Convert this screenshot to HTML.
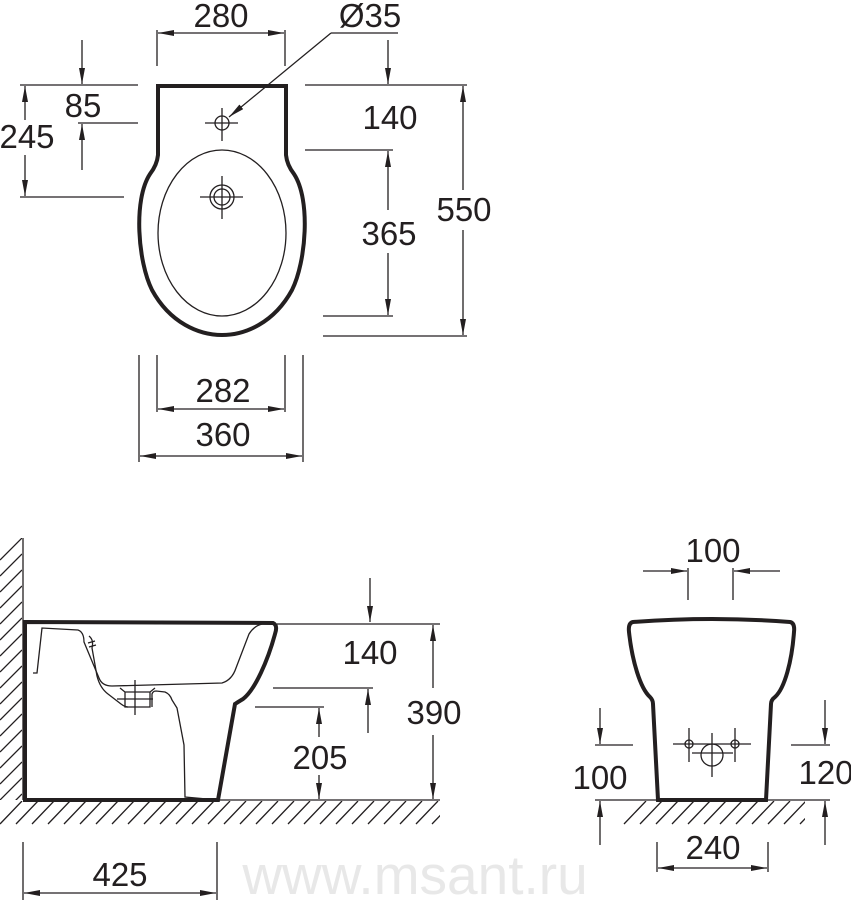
<!DOCTYPE html>
<html><head><meta charset="utf-8"><style>
html,body{margin:0;padding:0;background:#fff;}
svg{display:block;}
text{font-family:"Liberation Sans",Arial,sans-serif;font-size:33px;fill:#231f20;text-anchor:middle;}
</style></head><body>
<svg width="851" height="900" viewBox="0 0 851 900" xmlns="http://www.w3.org/2000/svg">
<defs>
<marker id="a" viewBox="0 0 16 6" refX="16" refY="3" markerWidth="16" markerHeight="6" markerUnits="userSpaceOnUse" orient="auto">
<path d="M0,0 L16,3 L0,6 Z" fill="#231f20"/>
</marker>
<clipPath id="wallc"><rect x="0" y="538" width="22" height="262"/></clipPath>
<clipPath id="fl1"><rect x="0" y="801" width="440" height="24"/></clipPath>
<clipPath id="fl2"><rect x="620" y="801" width="185" height="24"/></clipPath>
</defs>
<text x="415" y="894" style="font-size:55px;fill:#e8e8e8">www.msant.ru</text>
<g stroke="#231f20" fill="none" stroke-width="1.3">
<g clip-path="url(#wallc)">
<path d="M0,560 L22,538 M0,576 L22,554 M0,592 L22,570 M0,608 L22,586 M0,624 L22,602 M0,640 L22,618 M0,656 L22,634 M0,672 L22,650 M0,688 L22,666 M0,704 L22,682 M0,720 L22,698 M0,736 L22,714 M0,752 L22,730 M0,768 L22,746 M0,784 L22,762 M0,800 L22,778 M0,816 L22,794"/>
</g>
<g clip-path="url(#fl1)">
<path d="M0,824 L22,801 M16,824 L38,801 M32,824 L54,801 M48,824 L70,801 M64,824 L86,801 M80,824 L102,801 M96,824 L118,801 M112,824 L134,801 M128,824 L150,801 M144,824 L166,801 M160,824 L182,801 M176,824 L198,801 M192,824 L214,801 M208,824 L230,801 M224,824 L246,801 M240,824 L262,801 M256,824 L278,801 M272,824 L294,801 M288,824 L310,801 M304,824 L326,801 M320,824 L342,801 M336,824 L358,801 M352,824 L374,801 M368,824 L390,801 M384,824 L406,801 M400,824 L422,801 M416,824 L438,801 M432,824 L454,801"/>
</g>
<g clip-path="url(#fl2)">
<path d="M624,824 L646,801 M640,824 L662,801 M656,824 L678,801 M672,824 L694,801 M688,824 L710,801 M704,824 L726,801 M720,824 L742,801 M736,824 L758,801 M752,824 L774,801 M768,824 L790,801 M784,824 L806,801 M800,824 L822,801"/>
</g>
<line x1="23" y1="538" x2="23" y2="800"/>
<line x1="23" y1="800" x2="440" y2="800"/>
<line x1="595" y1="800" x2="830" y2="800"/>

<!-- TOP VIEW -->
<path stroke-width="4" d="M158,86 H286 V155 Q287,165 294,174 C311,200 306,262 292,290 C274,323 245,335 222,335 C199,335 170,323 152,290 C138,262 133,200 150,174 Q157,165 158,155 Z"/>
<ellipse cx="222" cy="233" rx="64" ry="83"/>
<circle cx="222" cy="123" r="7"/>
<path d="M205,123 H238 M222,108 V141"/>
<circle cx="222" cy="197" r="12"/><circle cx="222" cy="197" r="8"/>
<path d="M200,197 H243 M222,176 V219"/>
<path d="M157,30 V66 M285,30 V66"/>
<line x1="220" y1="33" x2="158" y2="33" marker-end="url(#a)"/>
<line x1="220" y1="33" x2="284" y2="33" marker-end="url(#a)"/>
<path d="M398,33 H331"/>
<line x1="331" y1="33" x2="229" y2="117" marker-end="url(#a)"/>
<path d="M20,85 H138 M78,123 H138 M20,197 H124"/>
<line x1="82" y1="40" x2="82" y2="84" marker-end="url(#a)"/>
<line x1="82" y1="170" x2="82" y2="124" marker-end="url(#a)"/>
<line x1="25" y1="120" x2="25" y2="86" marker-end="url(#a)"/>
<line x1="25" y1="155" x2="25" y2="196" marker-end="url(#a)"/>
<path d="M305,85 H467 M305,150 H393 M323,316 H393 M323,336 H467"/>
<line x1="388" y1="40" x2="388" y2="84" marker-end="url(#a)"/>
<line x1="388" y1="210" x2="388" y2="151" marker-end="url(#a)"/>
<line x1="388" y1="253" x2="388" y2="315" marker-end="url(#a)"/>
<line x1="463" y1="190" x2="463" y2="86" marker-end="url(#a)"/>
<line x1="463" y1="230" x2="463" y2="335" marker-end="url(#a)"/>
<path d="M139,355 V462 M303,355 V462 M157,355 V412 M285,355 V412"/>
<line x1="220" y1="409" x2="158" y2="409" marker-end="url(#a)"/>
<line x1="220" y1="409" x2="284" y2="409" marker-end="url(#a)"/>
<line x1="220" y1="456" x2="140" y2="456" marker-end="url(#a)"/>
<line x1="220" y1="456" x2="302" y2="456" marker-end="url(#a)"/>

<!-- SIDE VIEW -->
<path stroke-width="4" d="M25,622 L273,623 Q278,625 275,634 C268,660 255,690 243,699 Q238,702 235,704 L218,800 L25,800 Z"/>
<path d="M33,673 L37,673 L42,628 L78,630 Q84,632 84,642 L99,678 Q102,686 112,686 L222,683 Q232,680 236,668 L249,634 Q254,626 262,624"/>
<path d="M89,636 Q94,640 92,648 L97,676 Q100,688 108,694 L121,704 Q125,707 128,707"/>
<path d="M88,643 L95,641 M89,647 L96,645"/>
<path d="M120,688 L125,692 V707 H150 V692 L155,688 M125,692 H150"/>
<path d="M152,707 V694 Q153,691 156,691 L165,692 Q170,694 172,700 L177,708 L184,745 L185,797 L218,800"/>
<path d="M135,680 V715 M117,699 H153"/>
<path d="M277,624 H440 M273,688 H373 M255,707 H324"/>
<line x1="370" y1="578" x2="370" y2="622" marker-end="url(#a)"/>
<line x1="368" y1="733" x2="368" y2="689" marker-end="url(#a)"/>
<line x1="319" y1="737" x2="319" y2="708" marker-end="url(#a)"/>
<line x1="319" y1="775" x2="319" y2="799" marker-end="url(#a)"/>
<line x1="433" y1="688" x2="433" y2="625" marker-end="url(#a)"/>
<line x1="433" y1="735" x2="433" y2="799" marker-end="url(#a)"/>
<path d="M23,842 V900 M217,842 V900"/>
<line x1="120" y1="893" x2="24" y2="893" marker-end="url(#a)"/>
<line x1="120" y1="893" x2="216" y2="893" marker-end="url(#a)"/>

<!-- FRONT VIEW -->
<path stroke-width="4" d="M633,622 Q713,616 790,622 Q795,623 794,632 C792,660 785,688 775,697 Q771,700 771,704 L766,800 L658,800 L653,704 Q653,700 650,697 C640,688 632,660 629,632 Q628,623 633,622 Z"/>
<circle cx="712" cy="755" r="11"/>
<circle cx="689" cy="744" r="4"/><circle cx="735" cy="744" r="4"/>
<path d="M673,744 H751 M689,728 V762 M735,728 V762 M712,733 V777 M692,753 H733"/>
<path d="M688,568 V600 M733,568 V600"/>
<line x1="643" y1="571" x2="687" y2="571" marker-end="url(#a)"/>
<line x1="780" y1="571" x2="734" y2="571" marker-end="url(#a)"/>
<path d="M595,745 H633 M791,745 H830"/>
<line x1="600" y1="708" x2="600" y2="744" marker-end="url(#a)"/>
<line x1="600" y1="845" x2="600" y2="801" marker-end="url(#a)"/>
<line x1="825" y1="700" x2="825" y2="744" marker-end="url(#a)"/>
<line x1="825" y1="845" x2="825" y2="801" marker-end="url(#a)"/>
<path d="M657,842 V872 M768,842 V872"/>
<line x1="712" y1="868" x2="658" y2="868" marker-end="url(#a)"/>
<line x1="712" y1="868" x2="767" y2="868" marker-end="url(#a)"/>
</g>

<text x="221" y="27">280</text>
<text x="370" y="27">Ø35</text>
<text x="83" y="117">85</text>
<text x="27" y="148">245</text>
<text x="390" y="129">140</text>
<text x="389" y="245">365</text>
<text x="464" y="221">550</text>
<text x="223" y="402">282</text>
<text x="223" y="446">360</text>
<text x="370" y="664">140</text>
<text x="434" y="724">390</text>
<text x="320" y="769">205</text>
<text x="120" y="886">425</text>
<text x="713" y="562">100</text>
<text x="600" y="789">100</text>
<text x="826" y="784">120</text>
<text x="713" y="859">240</text>
</svg>
</body></html>
